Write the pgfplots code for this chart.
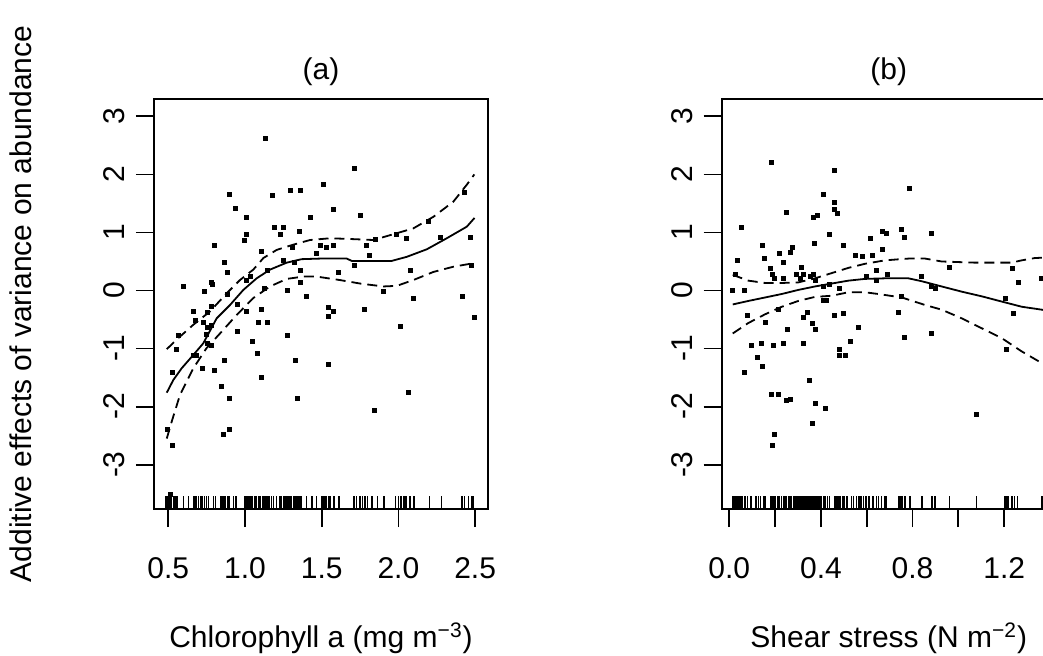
\documentclass[border=0pt]{standalone}
\usepackage{pgfplots}
\pgfplotsset{compat=1.18}
\usepackage{fontspec}
\setmainfont{Liberation Sans}

\pgfplotstableread{
x y
1.135 2.62
0.896 1.655
1.176 1.64
1.293 1.72
1.359 1.72
1.513 1.83
0.935 1.41
1.009 1.26
1.424 1.26
1.191 1.09
1.252 1.09
1.228 0.97
1.352 1.02
1.009 0.97
0.993 0.86
0.802 0.78
1.109 0.68
1.307 0.74
1.489 0.78
1.533 0.74
1.463 0.64
1.252 0.52
1.320 0.48
0.867 0.48
0.883 0.31
1.148 0.34
1.363 0.34
1.007 0.17
1.035 0.24
1.363 0.14
0.600 0.07
0.778 0.14
0.789 0.10
0.737 -0.01
0.883 -0.06
1.124 0.03
1.278 0.00
1.402 -0.10
0.948 -0.24
0.665 -0.36
0.752 -0.37
0.778 -0.28
1.009 -0.36
1.109 -0.33
0.678 -0.52
0.730 -0.55
1.089 -0.55
1.148 -0.55
0.754 -0.63
0.778 -0.60
0.563 -0.78
0.750 -0.76
0.948 -0.71
1.278 -0.78
1.546 -0.29
1.546 -0.44
0.550 -1.01
0.754 -0.91
0.778 -0.95
1.050 -0.88
0.665 -1.12
0.680 -1.12
1.078 -1.09
0.867 -1.20
1.330 -1.20
1.543 -1.28
0.524 -1.41
0.724 -1.35
0.802 -1.38
1.109 -1.49
0.843 -1.66
0.896 -1.86
1.343 -1.86
0.896 -2.40
0.857 -2.48
0.524 -2.67
0.493 -2.39
0.511 -3.51
1.715 2.10
1.576 1.39
1.750 1.29
2.432 1.69
2.197 1.19
1.984 0.97
2.050 0.90
1.852 0.88
1.793 0.78
2.275 0.92
2.467 0.92
1.808 0.61
1.576 0.77
1.715 0.43
1.610 0.31
2.076 0.34
2.478 0.44
1.904 -0.02
2.095 -0.14
2.419 -0.10
1.576 -0.36
1.778 -0.33
2.493 -0.47
2.010 -0.61
2.063 -1.76
1.841 -2.06
}\ptsA

\pgfplotstableread{
x y
0.490 -1.76
0.533 -1.54
0.587 -1.34
0.663 -1.11
0.728 -0.91
0.815 -0.48
0.902 -0.25
0.989 0.01
1.076 0.21
1.163 0.36
1.272 0.48
1.369 0.54
1.489 0.55
1.663 0.55
1.696 0.51
1.956 0.51
2.054 0.58
2.185 0.71
2.315 0.90
2.446 1.10
2.496 1.25
}\fitA

\pgfplotstableread{
x y
0.490 -1.01
0.565 -0.82
0.663 -0.59
0.772 -0.36
0.880 -0.05
0.967 0.18
1.054 0.36
1.120 0.56
1.207 0.70
1.315 0.79
1.424 0.87
1.554 0.90
1.663 0.89
1.837 0.87
1.967 0.97
2.097 1.07
2.228 1.27
2.358 1.53
2.445 1.82
2.495 2.00
}\upA

\pgfplotstableread{
x y
0.490 -2.55
0.522 -2.26
0.576 -1.80
0.663 -1.34
0.750 -0.99
0.837 -0.74
0.946 -0.42
1.054 -0.13
1.163 0.07
1.272 0.20
1.380 0.24
1.467 0.24
1.619 0.18
1.750 0.12
1.902 0.07
1.989 0.08
2.097 0.18
2.228 0.32
2.358 0.41
2.489 0.47
}\loA

\pgfplotstableread{
x y
0.485 -3.652
0.498 -3.652
0.511 -3.652
0.522 -3.652
0.533 -3.652
0.544 -3.652
0.557 -3.652
0.598 -3.652
0.631 -3.652
0.663 -3.652
0.674 -3.652
0.685 -3.652
0.698 -3.652
0.713 -3.652
0.724 -3.652
0.737 -3.652
0.750 -3.652
0.763 -3.652
0.794 -3.652
0.807 -3.652
0.841 -3.652
0.852 -3.652
0.863 -3.652
0.874 -3.652
0.887 -3.652
0.896 -3.652
0.924 -3.652
0.941 -3.652
0.996 -3.652
1.007 -3.652
1.017 -3.652
1.028 -3.652
1.039 -3.652
1.050 -3.652
1.061 -3.652
1.072 -3.652
1.091 -3.652
1.102 -3.652
1.113 -3.652
1.124 -3.652
1.135 -3.652
1.146 -3.652
1.156 -3.652
1.172 -3.652
1.185 -3.652
1.206 -3.652
1.228 -3.652
1.239 -3.652
1.250 -3.652
1.261 -3.652
1.272 -3.652
1.282 -3.652
1.293 -3.652
1.304 -3.652
1.315 -3.652
1.326 -3.652
1.337 -3.652
1.347 -3.652
1.358 -3.652
1.369 -3.652
1.402 -3.652
1.435 -3.652
1.467 -3.652
1.500 -3.652
1.510 -3.652
1.521 -3.652
1.532 -3.652
1.543 -3.652
1.554 -3.652
1.580 -3.652
1.611 -3.652
1.711 -3.652
1.728 -3.652
1.750 -3.652
1.765 -3.652
1.782 -3.652
1.798 -3.652
1.826 -3.652
1.863 -3.652
1.906 -3.652
1.980 -3.652
2.000 -3.652
2.015 -3.652
2.032 -3.652
2.043 -3.652
2.054 -3.652
2.076 -3.652
2.102 -3.652
2.202 -3.652
2.282 -3.652
2.415 -3.652
2.430 -3.652
2.456 -3.652
2.478 -3.652
2.489 -3.652
}\rugA

\pgfplotstableread{
x y
0.182 2.21
0.460 2.07
0.410 1.66
0.250 1.35
0.368 1.26
0.386 1.29
0.460 1.51
0.460 1.40
0.470 1.33
0.051 1.09
0.438 0.97
0.146 0.78
0.274 0.74
0.370 0.81
0.499 0.78
0.617 0.89
0.667 1.02
0.667 0.71
0.035 0.52
0.154 0.55
0.218 0.64
0.265 0.66
0.234 0.48
0.313 0.40
0.549 0.61
0.582 0.59
0.626 0.61
0.643 0.34
0.180 0.38
0.025 0.28
0.190 0.28
0.198 0.21
0.234 0.21
0.291 0.28
0.323 0.28
0.311 0.21
0.352 0.24
0.368 0.28
0.378 0.17
0.437 0.10
0.600 0.24
0.643 0.17
0.015 0.00
0.064 0.00
0.410 0.07
0.482 0.03
0.410 -0.17
0.425 -0.17
0.215 -0.33
0.080 -0.43
0.156 -0.55
0.325 -0.47
0.339 -0.37
0.361 -0.57
0.377 -0.67
0.255 -0.67
0.460 -0.43
0.499 -0.40
0.562 -0.64
0.095 -0.94
0.138 -0.91
0.192 -0.94
0.234 -0.91
0.322 -0.91
0.121 -1.16
0.146 -1.31
0.064 -1.41
0.482 -1.01
0.482 -1.12
0.505 -1.12
0.530 -0.88
0.351 -1.55
0.182 -1.79
0.215 -1.79
0.250 -1.90
0.265 -1.87
0.377 -1.95
0.419 -2.03
0.361 -2.29
0.198 -2.48
0.190 -2.67
0.788 1.76
0.687 0.98
0.750 1.05
0.763 0.92
0.884 0.98
0.962 0.40
0.689 0.28
0.840 0.24
0.884 0.07
0.901 0.03
1.234 0.38
1.261 0.14
1.364 0.21
1.204 -0.14
0.740 -0.37
1.242 -0.40
0.763 -0.81
0.884 -0.74
1.211 -1.01
1.080 -2.14
0.750 -0.10
}\ptsB

\pgfplotstableread{
x y
0.015 -0.24
0.083 -0.18
0.156 -0.12
0.229 -0.06
0.301 0.01
0.374 0.07
0.447 0.12
0.520 0.17
0.592 0.20
0.680 0.21
0.782 0.21
0.840 0.16
0.927 0.07
1.015 -0.02
1.102 -0.10
1.189 -0.19
1.277 -0.28
1.364 -0.33
1.400 -0.36
}\fitB

\pgfplotstableread{
x y
0.015 0.27
0.083 0.17
0.156 0.13
0.229 0.13
0.301 0.14
0.374 0.21
0.447 0.30
0.520 0.39
0.592 0.46
0.680 0.52
0.782 0.55
0.855 0.55
0.927 0.50
1.073 0.48
1.233 0.48
1.277 0.52
1.335 0.56
1.400 0.57
}\upB

\pgfplotstableread{
x y
0.015 -0.74
0.083 -0.56
0.156 -0.41
0.229 -0.28
0.301 -0.18
0.374 -0.11
0.447 -0.09
0.520 -0.03
0.592 -0.03
0.650 -0.06
0.753 -0.12
0.855 -0.25
0.927 -0.33
1.015 -0.48
1.102 -0.65
1.189 -0.82
1.277 -1.05
1.364 -1.25
1.400 -1.33
}\loB

\pgfplotstableread{
x y
0.015 -3.652
0.022 -3.652
0.029 -3.652
0.037 -3.652
0.044 -3.652
0.051 -3.652
0.058 -3.652
0.069 -3.652
0.079 -3.652
0.095 -3.652
0.117 -3.652
0.127 -3.652
0.137 -3.652
0.149 -3.652
0.156 -3.652
0.181 -3.652
0.188 -3.652
0.195 -3.652
0.202 -3.652
0.210 -3.652
0.218 -3.652
0.227 -3.652
0.236 -3.652
0.243 -3.652
0.250 -3.652
0.258 -3.652
0.265 -3.652
0.272 -3.652
0.280 -3.652
0.288 -3.652
0.296 -3.652
0.303 -3.652
0.310 -3.652
0.317 -3.652
0.325 -3.652
0.332 -3.652
0.338 -3.652
0.349 -3.652
0.357 -3.652
0.364 -3.652
0.371 -3.652
0.379 -3.652
0.386 -3.652
0.393 -3.652
0.400 -3.652
0.411 -3.652
0.419 -3.652
0.428 -3.652
0.437 -3.652
0.462 -3.652
0.469 -3.652
0.476 -3.652
0.483 -3.652
0.495 -3.652
0.502 -3.652
0.513 -3.652
0.533 -3.652
0.542 -3.652
0.556 -3.652
0.565 -3.652
0.576 -3.652
0.585 -3.652
0.597 -3.652
0.609 -3.652
0.626 -3.652
0.643 -3.652
0.651 -3.652
0.665 -3.652
0.680 -3.652
0.687 -3.652
0.738 -3.652
0.745 -3.652
0.753 -3.652
0.767 -3.652
0.789 -3.652
0.840 -3.652
0.886 -3.652
0.898 -3.652
0.961 -3.652
1.080 -3.652
1.201 -3.652
1.208 -3.652
1.218 -3.652
1.233 -3.652
1.245 -3.652
1.259 -3.652
1.364 -3.652
}\rugB

\pgfplotsset{
  gam/.style={
    scale only axis, width=167pt, height=205pt, anchor=north west,
    ymin=-3.764, ymax=3.299,
    axis line style={line width=0.9pt},
    tick align=outside, major tick length=9pt,
    tick style={black, line width=0.9pt},
    xtick pos=bottom, ytick pos=left,
    ytick={-3,-2,-1,0,1,2,3}, yticklabels={-3,-2,-1,0,1,2,3},
    yticklabel style={rotate=90, anchor=south},
    yticklabel shift=2pt,
    xticklabel style={anchor=north, text height=11pt, text depth=0pt},
    xticklabel shift=11pt,
    font=\fontsize{15}{18}\selectfont,
    /pgf/number format/assume math mode=true,
    every axis title shift=0pt,
    title style={at={(axis description cs:0.5,1.066)}, anchor=center},
    xlabel style={at={(axis description cs:0.5,-0.339)}, anchor=base},
  },
  pts/.style={only marks, mark=square*, mark size=1pt, black},
  rug/.style={only marks, mark=|, mark size=3.25pt, black, mark options={line width=0.8pt}},
  fit/.style={black, line width=0.9pt, no markers},
  ci/.style={black, line width=0.9pt, no markers, dash pattern=on 5pt off 3pt},
}

\begin{document}
\begin{tikzpicture}
\useasboundingbox (0pt,0pt) rectangle (521.5pt,-327.5pt);
\clip (0pt,0pt) rectangle (521.5pt,-327.5pt);

\begin{axis}[gam, at={(77pt,-49.5pt)},
  xmin=0.4068, xmax=2.584,
  xtick={0.5,1.0,1.5,2.0,2.5}, xticklabels={0.5,1.0,1.5,2.0,2.5},
  title={(a)},
  xlabel={Chlorophyll a (mg m\textsuperscript{−3})},
  ylabel={Additive effects of variance on abundance},
  ylabel style={at={(axis description cs:-0.398,0.5)}, anchor=center},
]
\addplot[pts] table[x=x,y=y] {\ptsA};
\addplot[fit] table[x=x,y=y] {\fitA};
\addplot[ci] table[x=x,y=y] {\upA};
\addplot[ci] table[x=x,y=y] {\loA};
\addplot[rug] table[x=x,y=y] {\rugA};
\end{axis}

\begin{axis}[gam, at={(360.85pt,-49.5pt)},
  xmin=-0.0332, xmax=1.425,
  xtick={0,0.2,0.4,0.6,0.8,1.0,1.2}, xticklabels={0.0,,0.4,,0.8,,1.2},
  title={(b)},
  xlabel={Shear stress (N m\textsuperscript{−2})},
]
\addplot[pts] table[x=x,y=y] {\ptsB};
\addplot[fit] table[x=x,y=y] {\fitB};
\addplot[ci] table[x=x,y=y] {\upB};
\addplot[ci] table[x=x,y=y] {\loB};
\addplot[rug] table[x=x,y=y] {\rugB};
\end{axis}
\end{tikzpicture}
\end{document}
